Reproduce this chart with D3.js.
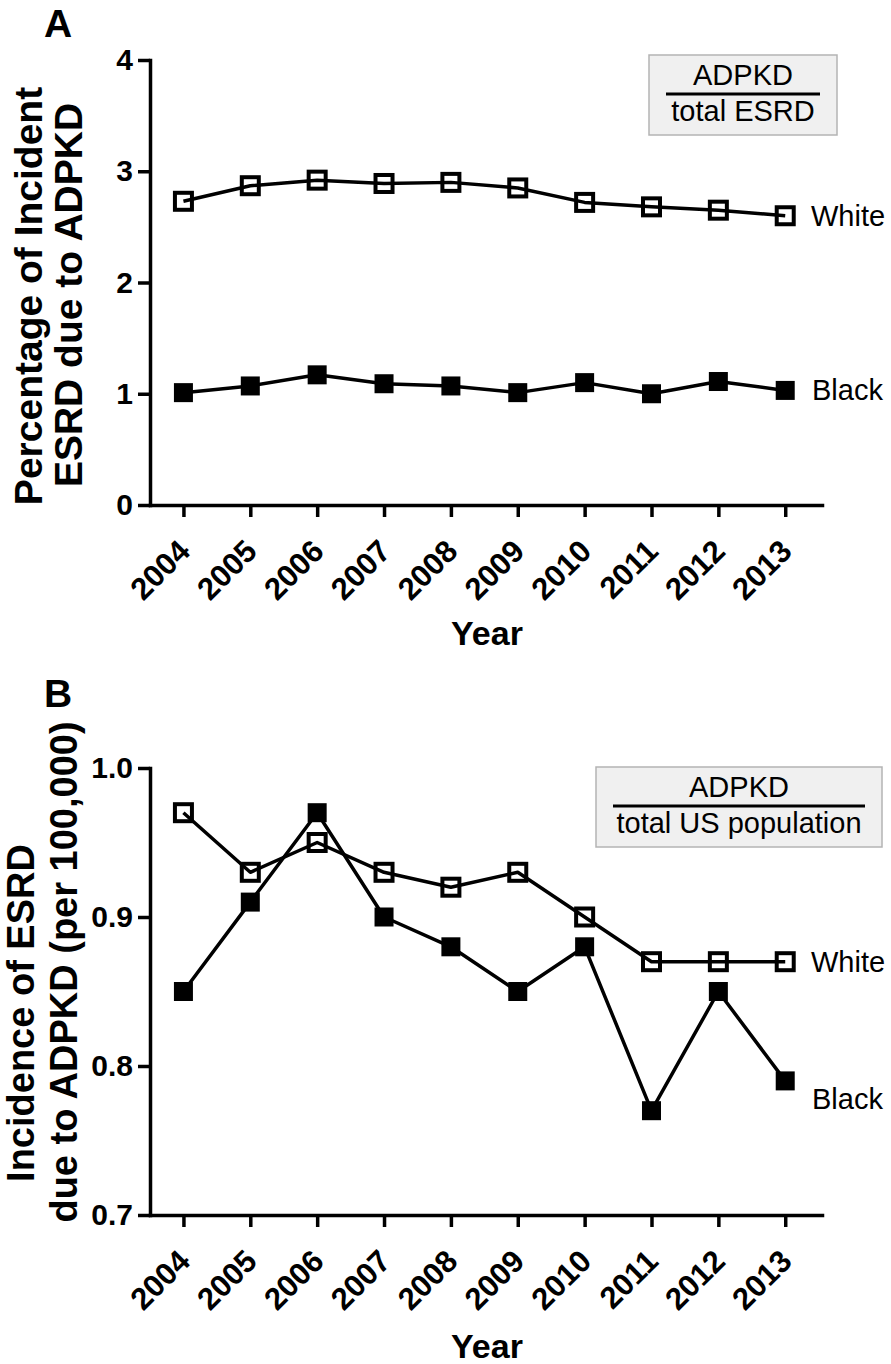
<!DOCTYPE html>
<html>
<head>
<meta charset="utf-8">
<script src="https://cdn.jsdelivr.net/npm/d3@7"></script>
<style>
  html, body { margin: 0; padding: 0; background: #fff; }
  svg { display: block; }
  text { font-family: "Liberation Sans", Arial, Helvetica, sans-serif; }
</style>
</head>
<body>
<svg id="chart" width="891" height="1364"></svg>
<script>
// ---- data ----
const years = [2004, 2005, 2006, 2007, 2008, 2009, 2010, 2011, 2012, 2013];
const pctWhite = [2.73, 2.87, 2.92, 2.89, 2.90, 2.85, 2.72, 2.68, 2.65, 2.60];
const pctBlack = [1.01, 1.07, 1.17, 1.09, 1.07, 1.01, 1.10, 1.00, 1.11, 1.03];
const incWhite = [0.97, 0.93, 0.95, 0.93, 0.92, 0.93, 0.90, 0.87, 0.87, 0.87];
const incBlack = [0.85, 0.91, 0.97, 0.90, 0.88, 0.85, 0.88, 0.77, 0.85, 0.79];
const pctTicks = [0, 1, 2, 3, 4];
const incTicks = [0.7, 0.8, 0.9, 1.0];
const seriesNames = ["White", "Black"];
const panelLetters = ["A", "B"];
const yTitlesA = ["Percentage of Incident", "ESRD due to ADPKD"];
const yTitlesB = ["Incidence of ESRD", "due to ADPKD (per 100,000)"];
const legendA = ["ADPKD", "total ESRD"];
const legendB = ["ADPKD", "total US population"];
const xTitle = "Year";

const svg = d3.select("#chart");

function drawPanel(cfg) {
  const g = svg.append("g");
  const x = d3.scaleLinear().domain([2003.5, 2013.55]).range([150, 822]);
  const y = d3.scaleLinear().domain(cfg.domain).range([cfg.bottom, cfg.top]);

  // panel letter
  g.append("text").attr("x", 44).attr("y", cfg.letterY)
    .attr("font-size", 39).attr("font-weight", "bold").text(cfg.letter);

  // x axis
  const xa = g.append("g").attr("transform", `translate(0,${cfg.bottom})`)
    .call(d3.axisBottom(x).tickValues(years).tickSize(12).tickSizeOuter(0).tickFormat(d3.format("d")));
  xa.select(".domain").attr("stroke-width", 3.5).attr("stroke-linecap", "square");
  xa.selectAll(".tick line").attr("stroke-width", 3.5);
  xa.selectAll(".tick text")
    .attr("x", 0).attr("y", 0).attr("dy", 0)
    .attr("text-anchor", "end")
    .attr("transform", "translate(8,48) rotate(-45)")
    .attr("font-size", 31).attr("font-weight", "bold")
    .attr("font-family", "Liberation Sans, Arial, sans-serif").attr("fill", "#000");

  // y axis
  const ya = g.append("g").attr("transform", "translate(150,0)")
    .call(d3.axisLeft(y).tickValues(cfg.ticks).tickSize(12).tickSizeOuter(0).tickPadding(5).tickFormat(cfg.fmt));
  ya.select(".domain").attr("stroke-width", 3.5).attr("stroke-linecap", "square");
  ya.selectAll(".tick line").attr("stroke-width", 3.5);
  ya.selectAll(".tick text")
    .attr("font-size", 30).attr("font-weight", "bold")
    .attr("font-family", "Liberation Sans, Arial, sans-serif").attr("fill", "#000");

  // y title
  cfg.yTitle.forEach((t, i) => {
    g.append("text")
      .attr("transform", `translate(${cfg.yTitleX[i]},${cfg.yTitleY[i]}) rotate(-90)`)
      .attr("text-anchor", "middle").attr("font-size", cfg.yTitleSize).attr("font-weight", "bold")
      .text(t);
  });

  // x title
  g.append("text").attr("x", 487).attr("y", cfg.xTitleY)
    .attr("text-anchor", "middle").attr("font-size", 34).attr("font-weight", "bold")
    .text(xTitle);

  // legend box
  const lb = cfg.legendBox;
  g.append("rect").attr("x", lb[0]).attr("y", lb[1]).attr("width", lb[2]).attr("height", lb[3])
    .attr("fill", "#f0f0f0").attr("stroke", "#b4b4b4").attr("stroke-width", 1.5);
  const cx = lb[0] + lb[2] / 2;
  g.append("text").attr("x", cx).attr("y", lb[1] + 30).attr("text-anchor", "middle")
    .attr("font-size", 29).text(cfg.legend[0]);
  g.append("line").attr("x1", lb[0] + 17).attr("x2", lb[0] + lb[2] - 17)
    .attr("y1", lb[1] + 39).attr("y2", lb[1] + 39).attr("stroke", "#000").attr("stroke-width", 3);
  g.append("text").attr("x", cx).attr("y", lb[1] + 66).attr("text-anchor", "middle")
    .attr("font-size", 29).text(cfg.legend[1]);

  const line = d3.line().x((d, i) => x(years[i])).y(d => y(d));

  // series
  [cfg.white, cfg.black].forEach((vals) => {
    g.append("path").datum(vals).attr("d", line)
      .attr("fill", "none").attr("stroke", "#000").attr("stroke-width", 3.5)
      .attr("stroke-linejoin", "round");
  });
  // white: open squares
  g.selectAll(".mw").data(cfg.white).enter().append("rect")
    .attr("x", (d, i) => x(years[i]) - 8.5).attr("y", d => y(d) - 8.5)
    .attr("width", 17).attr("height", 17)
    .attr("fill", "none").attr("stroke", "#000").attr("stroke-width", 4);
  // black: filled squares
  g.selectAll(".mb").data(cfg.black).enter().append("rect")
    .attr("x", (d, i) => x(years[i]) - 9.5).attr("y", d => y(d) - 9.5)
    .attr("width", 19).attr("height", 19).attr("fill", "#000");

  // series labels
  const last = years.length - 1;
  g.append("text").attr("x", 811).attr("y", y(cfg.white[last]) + 10 + cfg.labelOffsets[0])
    .attr("font-size", 29).text(seriesNames[0]);
  g.append("text").attr("x", 812).attr("y", y(cfg.black[last]) + 10 + cfg.labelOffsets[1])
    .attr("font-size", 29).text(seriesNames[1]);
}

drawPanel({
  letter: panelLetters[0], letterY: 37,
  domain: [0, 4], top: 60, bottom: 505, ticks: pctTicks, fmt: d3.format("d"),
  yTitle: yTitlesA, yTitleX: [42, 82], yTitleY: [296, 295], yTitleSize: 39,
  xTitleY: 645,
  legendBox: [649, 55, 188, 80], legend: legendA,
  white: pctWhite, black: pctBlack, labelOffsets: [0, 0]
});

drawPanel({
  letter: panelLetters[1], letterY: 707,
  domain: [0.7, 1.0], top: 768, bottom: 1215, ticks: incTicks, fmt: d3.format(".1f"),
  yTitle: yTitlesB, yTitleX: [34, 77], yTitleY: [1013, 972], yTitleSize: 38,
  xTitleY: 1358,
  legendBox: [596, 767, 286, 80], legend: legendB,
  white: incWhite, black: incBlack, labelOffsets: [0, 18]
});
</script>
</body>
</html>
